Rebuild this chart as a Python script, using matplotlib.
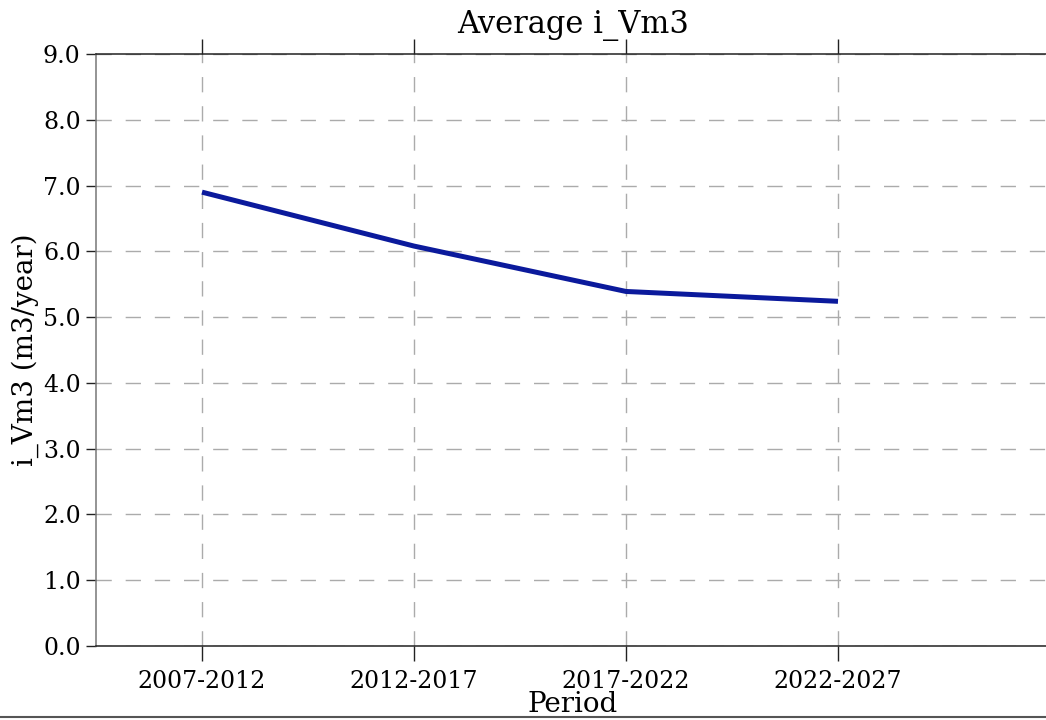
import matplotlib
matplotlib.use("Agg")
import matplotlib.pyplot as plt
from matplotlib.lines import Line2D

periods = ["2007-2012", "2012-2017", "2017-2022", "2022-2027"]
i_vm3 = [6.90, 6.08, 5.39, 5.24]
yticks = [0.0, 1.0, 2.0, 3.0, 4.0, 5.0, 6.0, 7.0, 8.0, 9.0]

plt.rcParams['font.family'] = 'DejaVu Serif'

fig = plt.figure(figsize=(10.46, 7.2), dpi=100)
ax = fig.add_axes([96/1046, 1-646/720, (1050-96)/1046, (646-54)/720])

x = list(range(len(periods)))
ax.plot(x, i_vm3, color='#0b1a9c', linewidth=3.6, solid_capstyle='butt')

ax.set_xlim(-0.5, 4.0)
ax.set_ylim(0, 9)
ax.set_xticks(x)
ax.set_xticklabels(periods)
ax.set_yticks(yticks)
ax.set_yticklabels([f"{v:.1f}" for v in yticks])

ax.grid(True, color='#ababab', linestyle=(0, (11, 10)), linewidth=1.0)
ax.tick_params(axis='both', direction='out', width=1, labelsize=17, color='#222222')
ax.tick_params(axis='x', top=True, bottom=True, length=11, pad=6)
ax.tick_params(axis='y', right=False, length=7, pad=4)
for s in ax.spines.values():
    s.set_color('#222222')
    s.set_linewidth(1.1)
ax.spines['left'].set_color('#777777')

ax.set_title("Average i_Vm3", fontsize=22, pad=15)
ax.set_xlabel("Period", fontsize=20, labelpad=-1)
ax.set_ylabel("i_Vm3 (m3/year)", fontsize=20, labelpad=3)

fig.add_artist(Line2D([0, 1], [3/720, 3/720], transform=fig.transFigure, color='#555555', linewidth=1.5))

fig.savefig("out.png", dpi=100)
